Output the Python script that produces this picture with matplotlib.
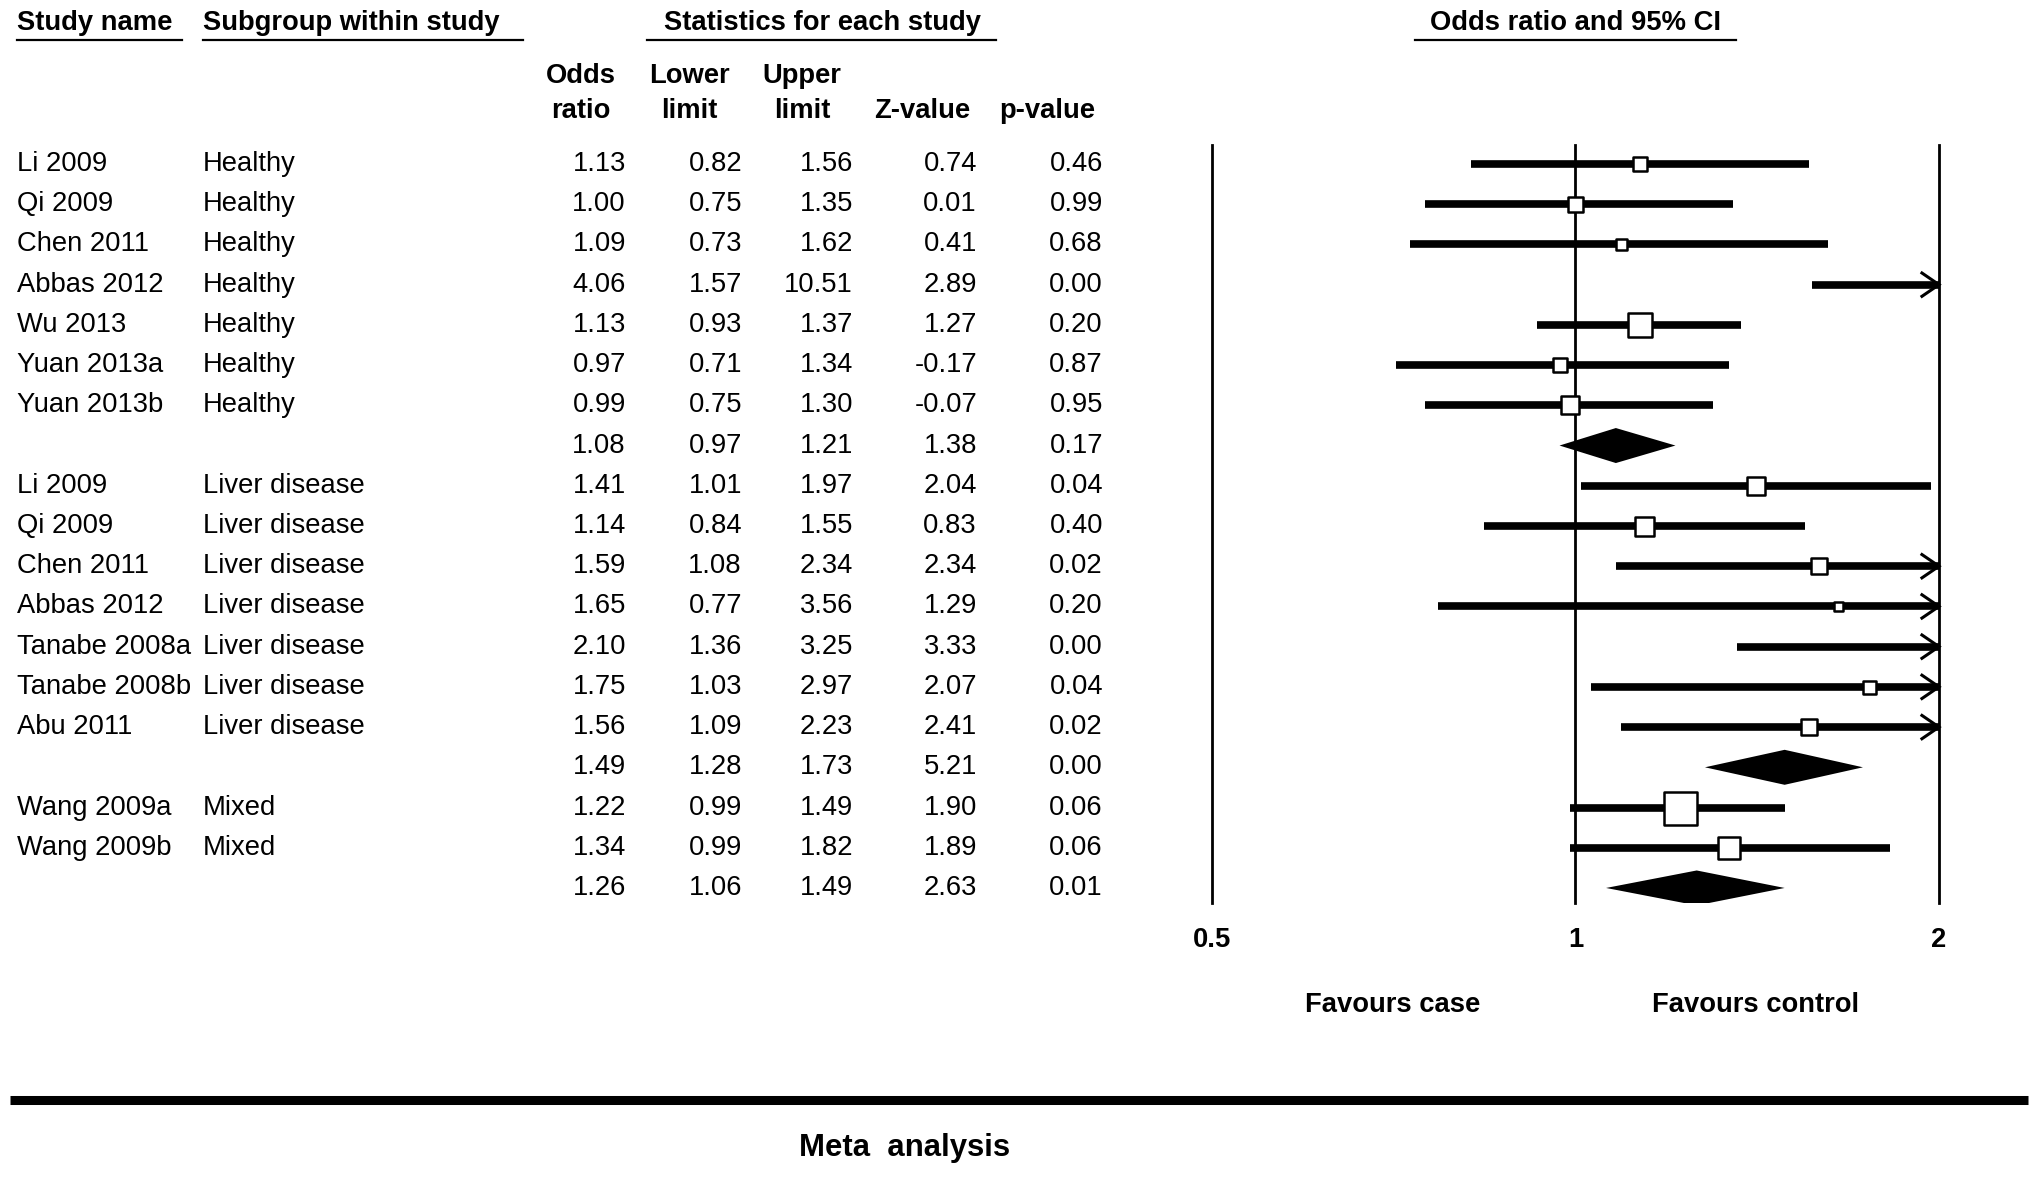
import matplotlib
matplotlib.use("Agg")
import matplotlib.pyplot as plt
import matplotlib.transforms as mtransforms
from matplotlib.ticker import FixedLocator, NullLocator

plt.rcParams['font.family'] = ['Liberation Sans', 'DejaVu Sans']

# ---- data ----
study = ["Li 2009", "Qi 2009", "Chen 2011", "Abbas 2012", "Wu 2013", "Yuan 2013a", "Yuan 2013b", "",
         "Li 2009", "Qi 2009", "Chen 2011", "Abbas 2012", "Tanabe 2008a", "Tanabe 2008b", "Abu 2011", "",
         "Wang 2009a", "Wang 2009b", ""]
subgroup = ["Healthy"] * 7 + [""] + ["Liver disease"] * 7 + [""] + ["Mixed"] * 2 + [""]
odds = [1.13, 1.00, 1.09, 4.06, 1.13, 0.97, 0.99, 1.08,
        1.41, 1.14, 1.59, 1.65, 2.10, 1.75, 1.56, 1.49,
        1.22, 1.34, 1.26]
lower = [0.82, 0.75, 0.73, 1.57, 0.93, 0.71, 0.75, 0.97,
         1.01, 0.84, 1.08, 0.77, 1.36, 1.03, 1.09, 1.28,
         0.99, 0.99, 1.06]
upper = [1.56, 1.35, 1.62, 10.51, 1.37, 1.34, 1.30, 1.21,
         1.97, 1.55, 2.34, 3.56, 3.25, 2.97, 2.23, 1.73,
         1.49, 1.82, 1.49]
zval = [0.74, 0.01, 0.41, 2.89, 1.27, -0.17, -0.07, 1.38,
        2.04, 0.83, 2.34, 1.29, 3.33, 2.07, 2.41, 5.21,
        1.90, 1.89, 2.63]
pval = [0.46, 0.99, 0.68, 0.00, 0.20, 0.87, 0.95, 0.17,
        0.04, 0.40, 0.02, 0.20, 0.00, 0.04, 0.02, 0.00,
        0.06, 0.06, 0.01]
summary = [False] * 7 + [True] + [False] * 7 + [True] + [False] * 2 + [True]
# relative box size (weight), px
box_size = [14, 15, 11, 12, 24, 14, 18, 0,
            18, 19, 16, 9, 12, 13, 16, 0,
            33, 23, 0]

W, H = 2031, 1178
ROW0 = 164      # px of first row
ROWH = 40.22    # px per row
FS = 19.7
XMIN, XMAX = 0.5, 2.0

fig = plt.figure(figsize=(W / 100, H / 100), dpi=100)
bg = fig.add_axes([0, 0, 1, 1])
bg.set_xlim(0, W)
bg.set_ylim(H, 0)
bg.axis('off')

# forest axes (log scale)
top_px, bot_px = 145, 903
ax = fig.add_axes([1212 / W, 1 - bot_px / H, (1939 - 1212) / W, (bot_px - top_px) / H])
ax.set_xscale('log')
ax.set_xlim(XMIN, XMAX)
ax.set_ylim((bot_px - ROW0) / ROWH, (top_px - ROW0) / ROWH)
for s in ax.spines.values():
    s.set_visible(False)
ax.yaxis.set_major_locator(NullLocator())
ax.xaxis.set_major_locator(FixedLocator([0.5, 1, 2]))
ax.xaxis.set_minor_locator(NullLocator())
ax.set_xticklabels(["0.5", "1", "2"], fontsize=FS, fontweight='bold')
ax.tick_params(axis='x', length=0, pad=17)
ax.patch.set_alpha(0)

for v in (0.5, 1, 2):
    ax.axvline(v, color='black', lw=2, zorder=1, clip_on=False)

rows = list(range(len(study)))
for i in rows:
    lo, hi, est = lower[i], upper[i], odds[i]
    if summary[i]:
        h = 0.435
        ax.fill([lo, est, hi, est], [i, i - h, i, i + h], color='black', lw=0, zorder=3)
        continue
    ax.hlines(i, max(lo, XMIN), min(hi, XMAX), color='black', lw=5.5, zorder=2, clip_on=False)
    if hi > XMAX:
        k = 0.968
        ax.plot([XMAX * k, XMAX, XMAX * k], [i - 0.29, i, i + 0.29], color='black', lw=2.2,
                solid_joinstyle='miter', zorder=2, clip_on=False)
    if XMIN <= est <= XMAX:
        pts = box_size[i] * 0.72
        ax.scatter([est], [i], marker='s', s=pts ** 2, facecolor='white', edgecolor='black',
                   linewidths=1.8, zorder=4)

# ---- table text ----
tr = mtransforms.blended_transform_factory(bg.transData, ax.transData)
for i in rows:
    fig.text(17, i, study[i], transform=tr, fontsize=FS, va='center')
    fig.text(203, i, subgroup[i], transform=tr, fontsize=FS, va='center')
    fig.text(626, i, f"{odds[i]:.2f}", transform=tr, fontsize=FS, va='center', ha='right')
    fig.text(742, i, f"{lower[i]:.2f}", transform=tr, fontsize=FS, va='center', ha='right')
    fig.text(853, i, f"{upper[i]:.2f}", transform=tr, fontsize=FS, va='center', ha='right')
    fig.text(977, i, f"{zval[i]:.2f}", transform=tr, fontsize=FS, va='center', ha='right')
    fig.text(1103, i, f"{pval[i]:.2f}", transform=tr, fontsize=FS, va='center', ha='right')

# ---- headers ----
hdr = dict(fontsize=FS, fontweight='bold', va='center')
bg.text(17, 23, "Study name", ha='left', **hdr)
bg.text(203, 23, "Subgroup within study", ha='left', **hdr)
bg.text(822, 23, "Statistics for each study", ha='center', **hdr)
bg.text(1575, 23, "Odds ratio and 95% CI", ha='center', **hdr)
for x0, x1 in [(17, 182), (203, 523), (647, 996), (1415, 1736)]:
    bg.plot([x0, x1], [40, 40], color='black', lw=1.6)

col_hdr = [(581, "Odds", "ratio"), (689, "Lower", "limit"), (802, "Upper", "limit"),
           (922, "", "Z-value"), (1047, "", "p-value")]
for x, l1, l2 in col_hdr:
    bg.text(x, 76, l1, ha='center', **hdr)
    bg.text(x, 111, l2, ha='center', **hdr)

bg.text(1393, 1005, "Favours case", ha='center', **hdr)
bg.text(1756, 1005, "Favours control", ha='center', **hdr)

bg.plot([10, 2028], [1100, 1100], color='black', lw=6.5, solid_capstyle='butt')
bg.text(905, 1148, "Meta  analysis", ha='center', va='center', fontsize=22.4, fontweight='bold')

fig.savefig("out.png", dpi=100)
